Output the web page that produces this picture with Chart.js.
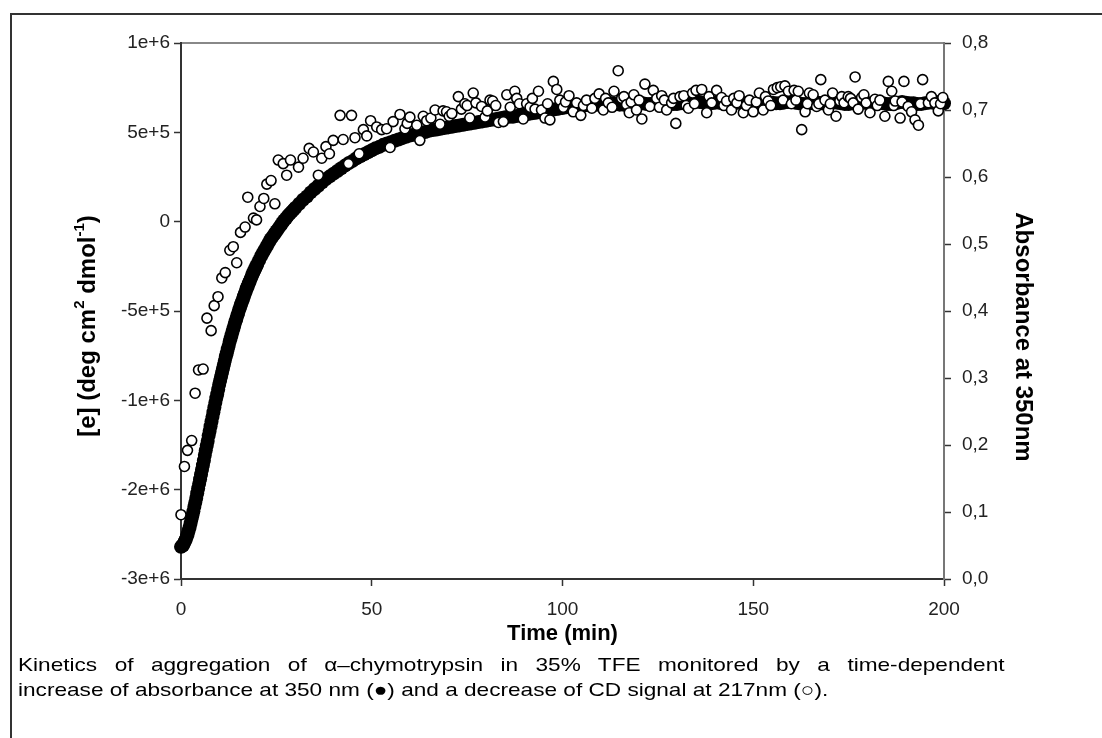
<!DOCTYPE html>
<html>
<head>
<meta charset="utf-8">
<title>Kinetics of aggregation of α-chymotrypsin</title>
<script src="https://cdn.jsdelivr.net/npm/chart.js@4/dist/chart.umd.min.js"></script>
<style>
  html, body { margin: 0; padding: 0; background: #fff; overflow: hidden; }
  #stage { position: relative; width: 1102px; height: 738px; }
  #frame { position: absolute; left: 10px; top: 13px; right: 0; bottom: 0;
           border-top: 2px solid #333; border-left: 2px solid #333; }
  #c { position: absolute; left: 0; top: 0; }
  #caption { position: absolute; left: 18px; top: 652px; width: 829px;
             transform: scaleX(1.19); transform-origin: 0 0;
             font-family: 'Liberation Sans', Arial, sans-serif; font-size: 19px;
             line-height: 25px; color: #000; }
  #caption .l1 { text-align: justify; text-align-last: justify; }
</style>
</head>
<body>
<div id="stage">
  <div id="frame"></div>
  <canvas id="c" width="1102" height="738"></canvas>
  <div id="caption">
    <div class="l1">Kinetics of aggregation of α–chymotrypsin in 35% TFE monitored by a time-dependent</div>
    <div class="l2">increase of absorbance at 350 nm (●) and a decrease of CD signal at 217nm (○).</div>
  </div>
</div>
<script>
// Absorbance at 350 nm (filled circles), time in minutes
const absTime = [
  0, 0.25, 0.5, 0.75, 1, 1.25, 1.5, 1.75, 2, 2.25, 2.5, 2.75, 3, 3.25, 3.5, 3.75, 4, 4.25, 4.5, 4.75,
  5, 5.25, 5.5, 5.75, 6, 6.25, 6.5, 6.75, 7, 7.25, 7.5, 7.75, 8, 8.25, 8.5, 8.75, 9, 9.25, 9.5, 9.75,
  10, 10.25, 10.5, 10.75, 11, 11.25, 11.5, 11.75, 12, 12.25, 12.5, 12.75, 13, 13.25, 13.5, 13.75, 14, 14.25, 14.5, 14.75,
  15, 15.25, 15.5, 15.75, 16, 16.25, 16.5, 16.75, 17, 17.25, 17.5, 17.75, 18, 18.25, 18.5, 18.75, 19, 19.25, 19.5, 19.75,
  20, 20.5, 21, 21.5, 22, 22.5, 23, 23.5, 24, 24.5, 25, 25.5, 26, 26.5, 27, 27.5, 28, 28.5, 29, 29.5, 30,
  31, 32, 33, 34, 35, 36, 37, 38, 39, 40, 41, 42, 43, 44, 45, 46, 47, 48, 49, 50,
  51, 52, 53, 54, 55, 56, 57, 58, 59, 60, 61, 62, 63, 64, 65, 66, 67, 68, 69, 70,
  71, 72, 73, 74, 75, 76, 77, 78, 79, 80, 81, 82, 83, 84, 85, 86, 87, 88, 89, 90,
  91, 92, 93, 94, 95, 96, 97, 98, 99, 100, 101, 102, 103, 104, 105, 106, 107, 108, 109, 110,
  111, 112, 113, 114, 115, 116, 117, 118, 119, 120, 121, 122, 123, 124, 125, 126, 127, 128, 129, 130,
  131, 132, 133, 134, 135, 136, 137, 138, 139, 140, 141, 142, 143, 144, 145, 146, 147, 148, 149, 150,
  151, 152, 153, 154, 155, 156, 157, 158, 159, 160, 161, 162, 163, 164, 165, 166, 167, 168, 169, 170,
  171, 172, 173, 174, 175, 176, 177, 178, 179, 180, 181, 182, 183, 184, 185, 186, 187, 188, 189, 190,
  191, 192, 193, 194, 195, 196, 197, 198, 199, 200
];
const absValue = [
  0.048, 0.049, 0.050, 0.053, 0.056, 0.059, 0.063, 0.067, 0.072, 0.077, 0.083, 0.089, 0.095, 0.101, 0.108, 0.114, 0.121, 0.128, 0.135, 0.142,
  0.149, 0.156, 0.163, 0.170, 0.177, 0.185, 0.192, 0.199, 0.206, 0.214, 0.221, 0.228, 0.235, 0.242, 0.249, 0.256, 0.263, 0.270, 0.276, 0.283,
  0.290, 0.296, 0.302, 0.308, 0.314, 0.320, 0.326, 0.332, 0.337, 0.343, 0.348, 0.354, 0.359, 0.364, 0.369, 0.374, 0.379, 0.384, 0.388, 0.393,
  0.397, 0.402, 0.406, 0.410, 0.414, 0.418, 0.422, 0.426, 0.430, 0.434, 0.437, 0.441, 0.444, 0.448, 0.451, 0.455, 0.458, 0.461, 0.464, 0.467,
  0.470, 0.476, 0.482, 0.487, 0.492, 0.497, 0.502, 0.507, 0.511, 0.515, 0.519, 0.523, 0.527, 0.531, 0.535, 0.538, 0.542, 0.545, 0.548, 0.551, 0.554,
  0.560, 0.566, 0.571, 0.577, 0.582, 0.587, 0.592, 0.597, 0.601, 0.605, 0.609, 0.613, 0.617, 0.621, 0.624, 0.628, 0.631, 0.634, 0.637, 0.640,
  0.643, 0.645, 0.648, 0.650, 0.652, 0.654, 0.656, 0.658, 0.660, 0.662, 0.663, 0.665, 0.666, 0.667, 0.669, 0.670, 0.671, 0.672, 0.673, 0.674,
  0.675, 0.676, 0.677, 0.678, 0.679, 0.680, 0.681, 0.682, 0.683, 0.684, 0.685, 0.686, 0.687, 0.688, 0.689, 0.690, 0.690, 0.691, 0.692, 0.693,
  0.694, 0.695, 0.696, 0.697, 0.698, 0.699, 0.700, 0.701, 0.702, 0.703, 0.704, 0.705, 0.705, 0.706, 0.706, 0.707, 0.707, 0.708, 0.708, 0.709,
  0.710, 0.711, 0.710, 0.709, 0.708, 0.708, 0.709, 0.710, 0.711, 0.711, 0.710, 0.709, 0.709, 0.710, 0.711, 0.712, 0.711, 0.710, 0.709, 0.709,
  0.710, 0.711, 0.712, 0.713, 0.713, 0.712, 0.711, 0.710, 0.710, 0.711, 0.711, 0.710, 0.709, 0.709, 0.710, 0.711, 0.711, 0.710, 0.709, 0.709,
  0.710, 0.711, 0.712, 0.712, 0.711, 0.710, 0.710, 0.711, 0.712, 0.712, 0.711, 0.710, 0.709, 0.709, 0.710, 0.711, 0.711, 0.710, 0.709, 0.710,
  0.711, 0.711, 0.710, 0.709, 0.709, 0.710, 0.711, 0.712, 0.711, 0.710, 0.710, 0.711, 0.711, 0.710, 0.709, 0.709, 0.710, 0.711, 0.712, 0.711,
  0.710, 0.710, 0.709, 0.709, 0.710, 0.711, 0.711, 0.712, 0.711, 0.710
];

// CD signal at 217 nm (open circles), mean residue ellipticity in deg cm2 dmol-1
const cdTime = [
  0.0, 0.9, 1.7, 2.8, 3.7, 4.6, 5.8, 6.8, 7.9, 8.7, 9.7, 10.7, 11.6, 12.8, 13.7, 14.6, 15.6, 16.8, 17.5, 19.0,
  19.8, 20.7, 21.7, 22.5, 23.6, 24.6, 25.5, 26.8, 27.7, 28.7, 30.8, 32.0, 33.6, 34.7, 36.0, 36.9, 38.0, 38.9, 39.9, 41.7,
  42.5, 43.9, 44.7, 45.6, 46.7, 47.8, 48.7, 49.7, 51.3, 52.6, 53.9, 54.8, 55.6, 57.4, 58.7, 59.3, 60.0, 61.8, 62.6, 63.5,
  64.4, 65.5, 66.6, 67.9, 68.7, 69.6, 70.3, 71.0, 72.7, 73.5, 74.4, 75.0, 75.7, 76.6, 77.3, 78.8, 79.7, 80.3, 81.0, 81.7,
  82.5, 83.2, 84.5, 85.4, 86.3, 87.5, 88.0, 88.7, 89.7, 90.6, 91.5, 92.1, 92.8, 93.7, 94.5, 95.4, 96.1, 96.7, 97.6, 98.5,
  99.3, 100.2, 100.8, 101.7, 102.8, 103.7, 104.8, 105.5, 106.3, 107.7, 108.5, 109.6, 110.7, 111.3, 112.0, 113.0, 113.5, 114.6, 115.5, 116.1,
  116.8, 117.5, 118.0, 118.7, 119.4, 120.1, 120.8, 121.6, 122.9, 123.8, 124.7, 125.4, 126.0, 126.7, 127.3, 128.6, 129.1, 129.7, 130.8, 131.8,
  132.4, 133.0, 134.1, 134.6, 135.0, 136.5, 137.8, 138.4, 139.1, 140.4, 141.7, 142.3, 143.0, 144.3, 144.9, 145.7, 146.3, 147.4, 148.2, 149.0,
  150.0, 150.8, 151.6, 152.6, 153.2, 153.9, 154.6, 155.3, 156.3, 157.2, 157.8, 158.3, 159.2, 160.0, 160.7, 161.2, 161.8, 162.7, 163.6, 164.2,
  164.7, 165.7, 166.6, 167.2, 167.7, 168.8, 169.7, 170.2, 170.8, 171.7, 172.7, 173.2, 173.8, 174.9, 175.5, 176.2, 176.7, 177.5, 178.4, 179.0,
  179.6, 180.6, 181.9, 182.5, 183.2, 184.5, 185.4, 186.3, 186.8, 187.2, 188.5, 189.0, 189.5, 190.6, 191.5, 192.4, 193.3, 193.8, 194.4, 195.9,
  196.7, 197.6, 198.5, 199.1, 199.7
];
const cdValue = [
  -2.28e6, -1.74e6, -1.56e6, -1.45e6, -9.6e5, -8.3e5, -8.25e5, -5.4e5, -6.1e5, -4.7e5, -4.2e5, -3.15e5, -2.85e5, -1.6e5, -1.4e5, -2.3e5, -6.0e4, -3.0e4, 1.37e5, 2.0e4,
  1.0e4, 8.5e4, 1.3e5, 2.1e5, 2.3e5, 1.0e5, 3.45e5, 3.25e5, 2.6e5, 3.45e5, 3.05e5, 3.55e5, 4.1e5, 3.9e5, 2.6e5, 3.55e5, 4.2e5, 3.8e5, 4.55e5, 5.95e5,
  4.6e5, 3.25e5, 5.95e5, 4.7e5, 3.8e5, 5.15e5, 4.8e5, 5.65e5, 5.3e5, 5.15e5, 5.2e5, 4.15e5, 5.6e5, 6.0e5, 5.2e5, 5.5e5, 5.85e5, 5.4e5, 4.55e5, 5.9e5,
  5.65e5, 5.8e5, 6.25e5, 5.45e5, 6.2e5, 6.15e5, 5.9e5, 6.05e5, 7.0e5, 6.3e5, 6.6e5, 6.5e5, 5.8e5, 7.2e5, 6.65e5, 6.45e5, 5.85e5, 6.2e5, 6.8e5, 6.75e5,
  6.5e5, 5.55e5, 5.6e5, 7.1e5, 6.4e5, 7.3e5, 6.9e5, 6.6e5, 5.75e5, 6.6e5, 6.4e5, 6.9e5, 6.3e5, 7.3e5, 6.25e5, 5.8e5, 6.6e5, 5.7e5, 7.85e5, 7.4e5,
  6.8e5, 6.4e5, 6.7e5, 7.05e5, 6.15e5, 6.65e5, 5.95e5, 6.5e5, 6.8e5, 6.35e5, 6.9e5, 7.15e5, 6.25e5, 6.9e5, 6.65e5, 6.4e5, 7.3e5, 8.45e5, 6.9e5, 7.0e5,
  6.55e5, 6.1e5, 6.7e5, 7.1e5, 6.25e5, 6.8e5, 5.75e5, 7.7e5, 6.45e5, 7.35e5, 6.9e5, 6.4e5, 7.05e5, 6.8e5, 6.25e5, 6.65e5, 6.9e5, 5.5e5, 7.0e5, 7.05e5,
  6.5e5, 6.35e5, 7.2e5, 6.6e5, 7.35e5, 7.4e5, 6.1e5, 7.0e5, 6.65e5, 7.35e5, 6.95e5, 6.5e5, 6.75e5, 6.25e5, 6.9e5, 6.65e5, 7.05e5, 6.1e5, 6.5e5, 6.8e5,
  6.15e5, 6.7e5, 7.2e5, 6.25e5, 7.0e5, 6.75e5, 6.5e5, 7.4e5, 7.5e5, 7.55e5, 6.8e5, 7.6e5, 7.3e5, 6.6e5, 7.35e5, 6.8e5, 7.3e5, 5.15e5, 6.15e5, 6.6e5,
  7.2e5, 7.1e5, 6.45e5, 6.6e5, 7.95e5, 6.8e5, 6.25e5, 6.6e5, 7.2e5, 5.9e5, 6.75e5, 7.0e5, 6.65e5, 7.0e5, 6.9e5, 6.65e5, 8.1e5, 6.3e5, 6.95e5, 7.1e5,
  6.65e5, 6.1e5, 6.85e5, 6.5e5, 6.8e5, 5.9e5, 7.85e5, 7.3e5, 6.5e5, 6.75e5, 5.8e5, 6.7e5, 7.85e5, 6.45e5, 6.15e5, 5.7e5, 5.4e5, 6.6e5, 7.95e5, 6.65e5,
  7.0e5, 6.65e5, 6.2e5, 6.6e5, 6.95e5
];

// Axis ticks
const timeTicks = [0, 50, 100, 150, 200];
const cdTickValues = [-3e6, -2e6, -1e6, -5e5, 0, 5e5, 1e6];
const cdTickLabels = ['-3e+6', '-2e+6', '-1e+6', '-5e+5', '0', '5e+5', '1e+6'];
const absTickLabels = ['0,0', '0,1', '0,2', '0,3', '0,4', '0,5', '0,6', '0,7', '0,8'];

// The ellipticity axis places its labelled values at equal spacing;
// values are interpolated linearly inside each labelled interval.
class SegmentedScale extends Chart.LinearScale {
  static id = 'segmented';
  static defaults = {};
  determineDataLimits() {
    this.min = cdTickValues[0];
    this.max = cdTickValues[cdTickValues.length - 1];
  }
  buildTicks() {
    return cdTickValues.map(v => ({ value: v }));
  }
  toDecimal(v) {
    const n = cdTickValues.length - 1;
    for (let i = 0; i < n; i++) {
      const a = cdTickValues[i], b = cdTickValues[i + 1];
      if (v <= b || i === n - 1) return (i + (v - a) / (b - a)) / n;
    }
    return 1;
  }
  getPixelForValue(v) {
    if (v === null || v === undefined || isNaN(v)) return NaN;
    return this.getPixelForDecimal(this.toDecimal(v));
  }
  getValueForPixel(px) {
    const n = cdTickValues.length - 1;
    const d = this.getDecimalForPixel(px) * n;
    const i = Math.max(0, Math.min(n - 1, Math.floor(d)));
    const a = cdTickValues[i], b = cdTickValues[i + 1];
    return a + (d - i) * (b - a);
  }
}
Chart.register(SegmentedScale);

const tickFont = { family: 'Liberation Sans', size: 19 };
const tickGrid = { display: true, drawOnChartArea: false, drawTicks: true, tickLength: 7, tickColor: '#333', tickWidth: 1.5 };

// Rotated side titles (the ellipticity unit needs superscripts)
function drawRichText(ctx, parts, cx, cy, angle) {
  ctx.save();
  ctx.translate(cx, cy);
  ctx.rotate(angle);
  ctx.fillStyle = '#000';
  ctx.textBaseline = 'middle';
  ctx.textAlign = 'left';
  const fontFor = p => p.sup ? 'bold 15px "Liberation Sans"' : 'bold 24px "Liberation Sans"';
  let total = 0;
  parts.forEach(p => { ctx.font = fontFor(p); total += ctx.measureText(p.t).width; });
  let x = -total / 2;
  parts.forEach(p => {
    ctx.font = fontFor(p);
    ctx.fillText(p.t, x, p.sup ? -8 : 0);
    x += ctx.measureText(p.t).width;
  });
  ctx.restore();
}

const sideTitles = {
  id: 'sideTitles',
  afterDraw(chart) {
    const ctx = chart.ctx;
    const mid = (chart.chartArea.top + chart.chartArea.bottom) / 2;
    drawRichText(ctx, [
      { t: '[e] (deg cm' }, { t: '2', sup: true }, { t: ' dmol' }, { t: '-1', sup: true }, { t: ')' }
    ], 88, mid + 15, -Math.PI / 2);
    drawRichText(ctx, [{ t: 'Absorbance at 350nm' }], 1023, mid + 26, Math.PI / 2);
  }
};

new Chart(document.getElementById('c'), {
  type: 'scatter',
  data: {
    datasets: [
      {
        label: 'CD signal at 217 nm',
        data: cdTime.map((t, i) => ({ x: t, y: cdValue[i] })),
        yAxisID: 'y',
        pointRadius: 5,
        pointHoverRadius: 5,
        backgroundColor: '#fff',
        borderColor: '#000',
        borderWidth: 1.6,
        order: 0,
        clip: false
      },
      {
        label: 'Absorbance at 350 nm',
        data: absTime.map((t, i) => ({ x: t, y: absValue[i] })),
        yAxisID: 'y2',
        pointRadius: 7,
        pointHoverRadius: 7,
        backgroundColor: '#000',
        borderColor: '#000',
        borderWidth: 0,
        order: 1,
        clip: false
      }
    ]
  },
  options: {
    responsive: false,
    devicePixelRatio: 1,
    animation: false,
    events: [],
    layout: { padding: { top: 43, left: 0, right: 0, bottom: 0 } },
    plugins: { legend: { display: false }, tooltip: { enabled: false } },
    scales: {
      x: {
        type: 'linear', position: 'bottom', min: 0, max: 200,
        afterFit: s => { s.height = 159; },
        afterBuildTicks: s => { s.ticks = timeTicks.map(v => ({ value: v })); },
        ticks: { autoSkip: false, maxRotation: 0, padding: 12, color: '#222', font: tickFont },
        grid: tickGrid,
        border: { display: true, color: '#333', width: 2 },
        title: { display: true, text: 'Time (min)', color: '#000',
                 font: { family: 'Liberation Sans', size: 22, weight: 'bold' },
                 padding: { top: 0, bottom: 91 } }
      },
      xTop: {
        type: 'linear', position: 'top', min: 0, max: 200,
        afterFit: s => { s.height = 0; },
        ticks: { display: false },
        grid: { display: true, drawOnChartArea: false, drawTicks: false },
        border: { display: true, color: '#888', width: 2 }
      },
      y: {
        type: 'segmented', position: 'left',
        afterFit: s => { s.width = 181; },
        ticks: { autoSkip: false, padding: 4, color: '#222', font: tickFont,
                 callback: (v, i) => cdTickLabels[i] },
        grid: tickGrid,
        border: { display: true, color: '#333', width: 2 }
      },
      y2: {
        type: 'linear', position: 'right', min: 0, max: 0.8,
        afterFit: s => { s.width = 158; },
        ticks: { stepSize: 0.1, autoSkip: false, padding: 11, color: '#222', font: tickFont,
                 callback: (v, i) => absTickLabels[i] },
        grid: tickGrid,
        border: { display: true, color: '#777', width: 2 }
      }
    }
  },
  plugins: [sideTitles]
});
</script>
</body>
</html>
